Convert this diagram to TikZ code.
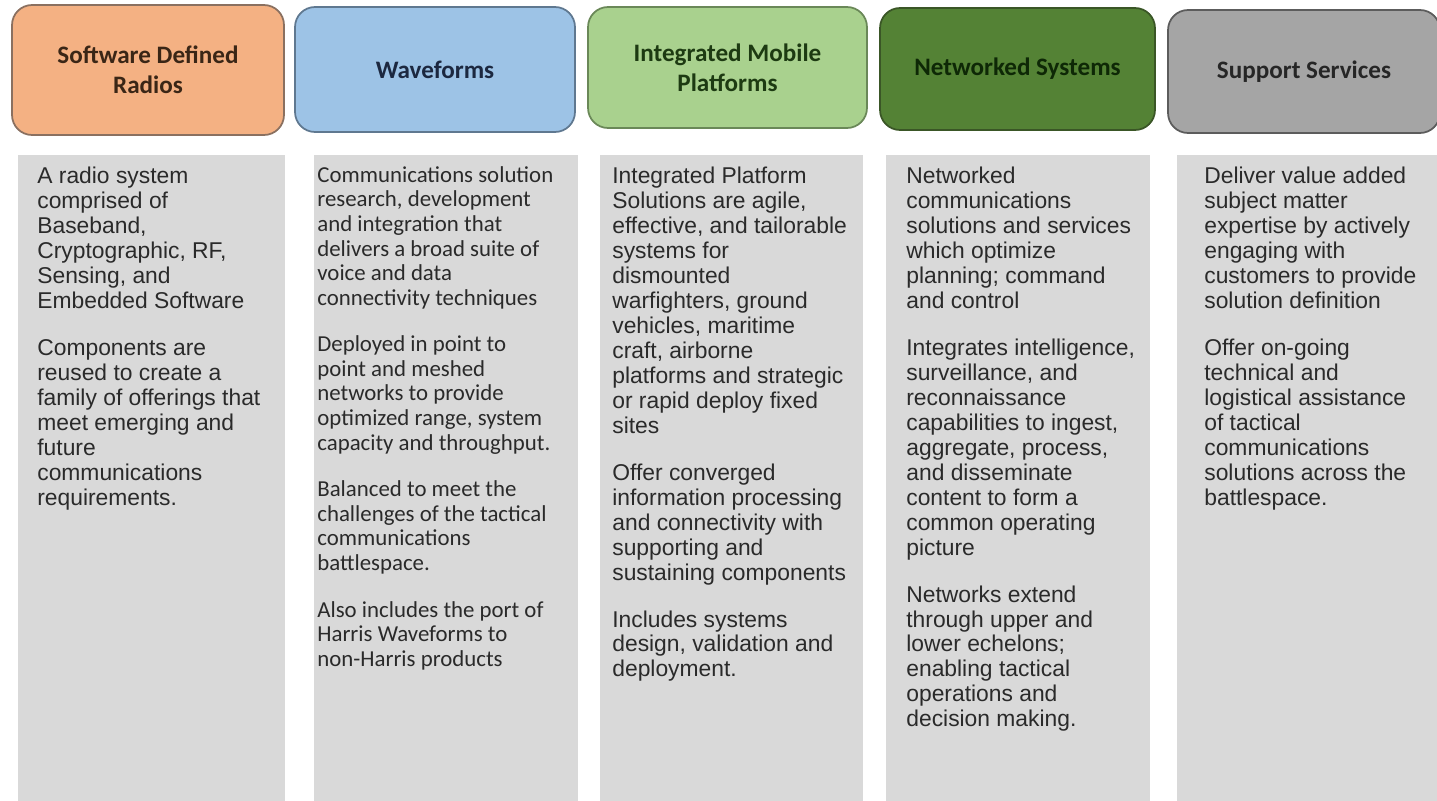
\documentclass[tikz,border=0pt]{standalone}
\usepackage{fontspec}
\setmainfont{Liberation Sans}
\newfontfamily\calfont{Carlito}
\usetikzlibrary{fit}
\definecolor{sdrfill}{HTML}{F4B183}
\definecolor{sdrline}{HTML}{8A7060}
\definecolor{sdrtext}{HTML}{3A2616}
\definecolor{wavefill}{HTML}{9DC3E6}
\definecolor{waveline}{HTML}{5F7890}
\definecolor{wavetext}{HTML}{1C2840}
\definecolor{impfill}{HTML}{A9D18E}
\definecolor{impline}{HTML}{6A8858}
\definecolor{imptext}{HTML}{1D3A12}
\definecolor{netfill}{HTML}{548235}
\definecolor{netline}{HTML}{3A5626}
\definecolor{nettext}{HTML}{0E2806}
\definecolor{supfill}{HTML}{A5A5A5}
\definecolor{supline}{HTML}{5C5C5C}
\definecolor{suptext}{HTML}{262626}
\definecolor{panelgray}{HTML}{D9D9D9}
\definecolor{bodytext}{HTML}{2A2A2A}
\begin{document}
\begin{tikzpicture}[x=0.02cm,y=-0.02cm,
  hdr/.style={rounded corners=0.4cm, line width=1pt, inner sep=0pt, align=center,
    font=\calfont\bfseries\fontsize{14.3}{17}\selectfont},
  panel/.style={fill=panelgray, inner sep=0pt},
  body/.style={anchor=north west, inner sep=0pt, align=left, text=bodytext,
    font=\fontsize{13}{14.2}\selectfont},
  calbody/.style={body, font=\calfont\fontsize{13}{14}\selectfont}]
\useasboundingbox (0,0) rectangle (1437,801);
\node[hdr, fill=sdrfill, draw=sdrline, text=sdrtext, minimum width=5.44cm, minimum height=2.6cm] (sdr) at (148,70) {Software Defined\\Radios};
\node[hdr, fill=wavefill, draw=waveline, text=wavetext, minimum width=5.6cm, minimum height=2.5cm] (wave) at (435,69.5) {Waveforms};
\node[hdr, fill=impfill, draw=impline, text=imptext, minimum width=5.58cm, minimum height=2.42cm] (imp) at (727.5,67.5) {Integrated Mobile\\Platforms};
\node[hdr, fill=netfill, draw=netline, text=nettext, minimum width=5.5cm, minimum height=2.44cm] (net) at (1017.5,69) {Networked Systems};
\node[hdr, fill=supfill, draw=supline, text=suptext, minimum width=5.44cm, minimum height=2.46cm] (sup) at (1304,71.5) {Support Services};
\node[panel, fit={(18,155) (285,801)}] (sdrbox) {};
\node[panel, fit={(314,155) (578,801)}] (wavebox) {};
\node[panel, fit={(600,155) (863,801)}] (impbox) {};
\node[panel, fit={(886,155) (1150,801)}] (netbox) {};
\node[panel, fit={(1177,155) (1437,801)}] (supbox) {};
\node[body] (sdrtxt) at (37,167) {A radio system\\comprised of\\Baseband,\\Cryptographic, RF,\\Sensing, and\\Embedded Software\\[12.5pt]
Components are\\reused to create a\\family of offerings that\\meet emerging and\\future\\communications\\requirements.};
\node[calbody] (wavetxt) at (317,166) {Communications solution\\research, development\\and integration that\\delivers a broad suite of\\voice and data\\connectivity techniques\\[12.5pt]
Deployed in point to\\point and meshed\\networks to provide\\optimized range, system\\capacity and throughput.\\[12.5pt]
Balanced to meet the\\challenges of the tactical\\communications\\battlespace.\\[12.5pt]
Also includes the port of\\Harris Waveforms to\\non-Harris products};
\node[body] (imptxt) at (612,167) {Integrated Platform\\Solutions are agile,\\effective, and tailorable\\systems for\\dismounted\\warfighters, ground\\vehicles, maritime\\craft, airborne\\platforms and strategic\\or rapid deploy fixed\\sites\\[12.5pt]
Offer converged\\information processing\\and connectivity with\\supporting and\\sustaining components\\[12.5pt]
Includes systems\\design, validation and\\deployment.};
\node[body] (nettxt) at (906,167) {Networked\\communications\\solutions and services\\which optimize\\planning; command\\and control\\[12.5pt]
Integrates intelligence,\\surveillance, and\\reconnaissance\\capabilities to ingest,\\aggregate, process,\\and disseminate\\content to form a\\common operating\\picture\\[12.5pt]
Networks extend\\through upper and\\lower echelons;\\enabling tactical\\operations and\\decision making.};
\node[body] (suptxt) at (1204,167) {Deliver value added\\subject matter\\expertise by actively\\engaging with\\customers to provide\\solution definition\\[12.5pt]
Offer on-going\\technical and\\logistical assistance\\of tactical\\communications\\solutions across the\\battlespace.};
\end{tikzpicture}
\end{document}
